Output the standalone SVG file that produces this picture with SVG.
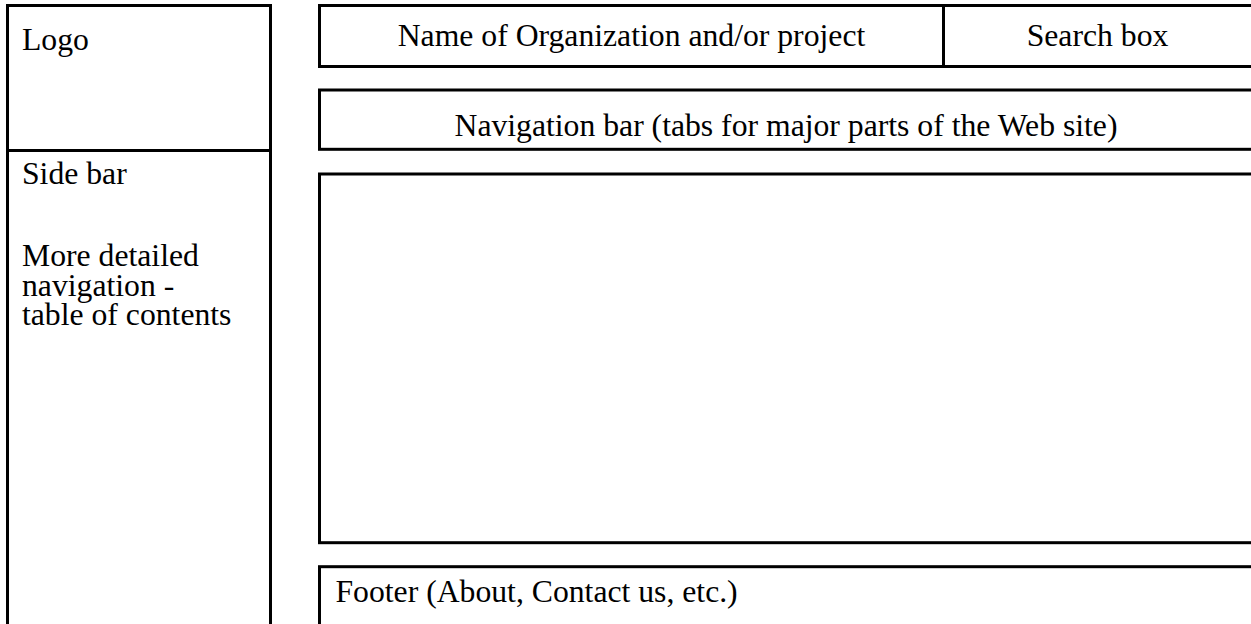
<svg xmlns="http://www.w3.org/2000/svg" width="1251" height="624" viewBox="0 0 1251 624">
<style>
.box{fill:#fff;stroke:#000;stroke-width:3}
.ln{stroke:#000;stroke-width:3;fill:none}
text{font-family:"Liberation Serif","Times New Roman",serif;font-size:31.7px;fill:#000}
.c{text-anchor:middle}
</style>
<rect width="1251" height="624" fill="#fff"/>
<g id="sidebar">
<rect class="box" x="7.5" y="5.5" width="263" height="640"/>
<line class="ln" x1="7.5" y1="150.5" x2="270.5" y2="150.5"/>
<text x="22" y="49.5">Logo</text>
<text x="22" y="183.5">Side bar</text>
<text x="22" y="265.7">More detailed</text>
<text x="22" y="295.5">navigation -</text>
<text x="22" y="325.3">table of contents</text>
</g>
<g id="header">
<rect class="box" x="319.5" y="5.5" width="940" height="61"/>
<line class="ln" x1="943.5" y1="5.5" x2="943.5" y2="66.5"/>
<text class="c" x="631.5" y="45.7">Name of Organization and/or project</text>
<text class="c" x="1097.5" y="45.7">Search box</text>
</g>
<g id="navbar">
<rect class="box" x="319.5" y="90" width="940" height="59.3"/>
<text class="c" x="786" y="135.7">Navigation bar (tabs for major parts of the Web site)</text>
</g>
<g id="content">
<rect class="box" x="319.5" y="174" width="940" height="368.7"/>
</g>
<g id="footer">
<rect class="box" x="319.5" y="566.7" width="940" height="100"/>
<text x="335.5" y="601.7">Footer (About, Contact us, etc.)</text>
</g>
<g id="connectors"/>
</svg>
